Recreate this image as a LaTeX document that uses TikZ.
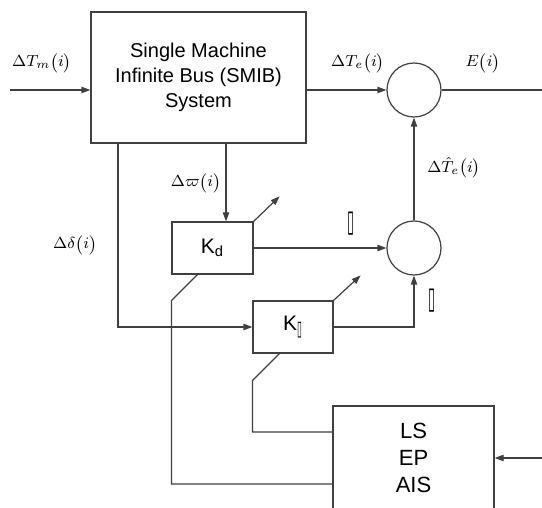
\documentclass[tikz,border=0pt]{standalone}
\usepackage{amsmath}
\usepackage{fontspec}
\setmainfont{Liberation Sans}
\newfontfamily\symfont{DejaVu Sans}
\usepackage{tikz}
\usetikzlibrary{arrows.meta,positioning,calc}

\newcommand{\tallbox}{\scalebox{0.8}[1.9]{\symfont ▯}}
\newcommand{\subbox}{\scalebox{0.6}[1.4]{\symfont ▯}}

\begin{document}
\begin{tikzpicture}[
  x=0.5pt, y=-0.5pt,
  line width=0.6pt, draw=black!75,
  block/.style={rectangle, draw=black!75, line width=0.6pt, align=center, inner sep=0pt},
  sumnode/.style={circle, draw=black!75, line width=0.6pt, minimum size=27pt, inner sep=0pt},
  sig/.style={font=\fontsize{8}{10}\selectfont, inner sep=0pt},
  arr/.style={draw=black!75, -{Triangle[length=4.5pt,width=3.2pt]}},
  wire/.style={draw=black!75}
]
  \useasboundingbox (0,0) rectangle (542,508);
  \clip (0,0) rectangle (542,508);

  \node[block, minimum width=107.5pt, minimum height=65.5pt,
        font=\fontsize{10}{12.5}\selectfont] (smib) at (198.5,77.5)
        {Single Machine\\Infinite Bus (SMIB)\\System};
  \node[block, minimum width=40.5pt, minimum height=26pt, font=\fontsize{10.5}{12}\selectfont]
        (kd) at (212.5,248) {K\textsubscript{d}};
  \node[block, minimum width=40pt, minimum height=26pt, font=\fontsize{10.5}{12}\selectfont]
        (kp) at (293,327) {K\textsubscript{\subbox}};
  \node[block, minimum width=80.5pt, minimum height=52pt, font=\fontsize{11}{13.5}\selectfont]
        (ls) at (413.5,458) {LS\\EP\\AIS};
  \node[sumnode] (c1) at (414,90) {};
  \node[sumnode] (c2) at (414,248) {};

  \coordinate (tmin) at (10,90);
  \coordinate (eout) at (542,90);
  \coordinate (wtap) at (226,143);
  \coordinate (dtap) at (118,143);
  \coordinate (lsin) at (542,458);

  \draw[arr] (tmin) -- (smib.west |- tmin);
  \draw[arr] (smib.east |- c1) -- (c1.west);
  \draw[wire] (c1.east) -- (eout);
  \draw[arr] (c2.north) -- (c1.south);
  \draw[arr] (wtap) -- (wtap |- kd.north);
  \draw[arr] (dtap) |- (kp.west);
  \draw[arr] (kd.east) -- (c2.west);
  \draw[arr] (kp.east) -| (c2.south);
  \draw[arr] (kd.north east) -- ++(26,-25);
  \draw[arr] (kp.north east) -- ++(27,-25);
  \draw[wire] ($(kd.south west)+(26,0)$) -- ++(-26,26) |- ($(ls.west)+(0,26)$);
  \draw[wire] ($(kp.south west)+(27,0)$) -- ++(-27,27) |- ($(ls.west)+(0,-26)$);
  \draw[arr] (lsin) -- (ls.east |- lsin);

  \node[sig] (ltm) at (42,63) {$\Delta T_m\big(i\big)$};
  \node[sig] (lte) at (358,63) {$\Delta T_e\big(i\big)$};
  \node[sig] (lei) at (483,63) {$E\big(i\big)$};
  \node[sig] (lth) at (454,168) {$\Delta \hat{T}_e\big(i\big)$};
  \node[sig] (lw) at (196,183) {$\Delta\varpi\big(i\big)$};
  \node[sig] (ld) at (75,245) {$\Delta\delta\big(i\big)$};
  \node[sig] (lq1) at (351,224) {\tallbox};
  \node[sig] (lq2) at (432,301) {\tallbox};
\end{tikzpicture}
\end{document}
